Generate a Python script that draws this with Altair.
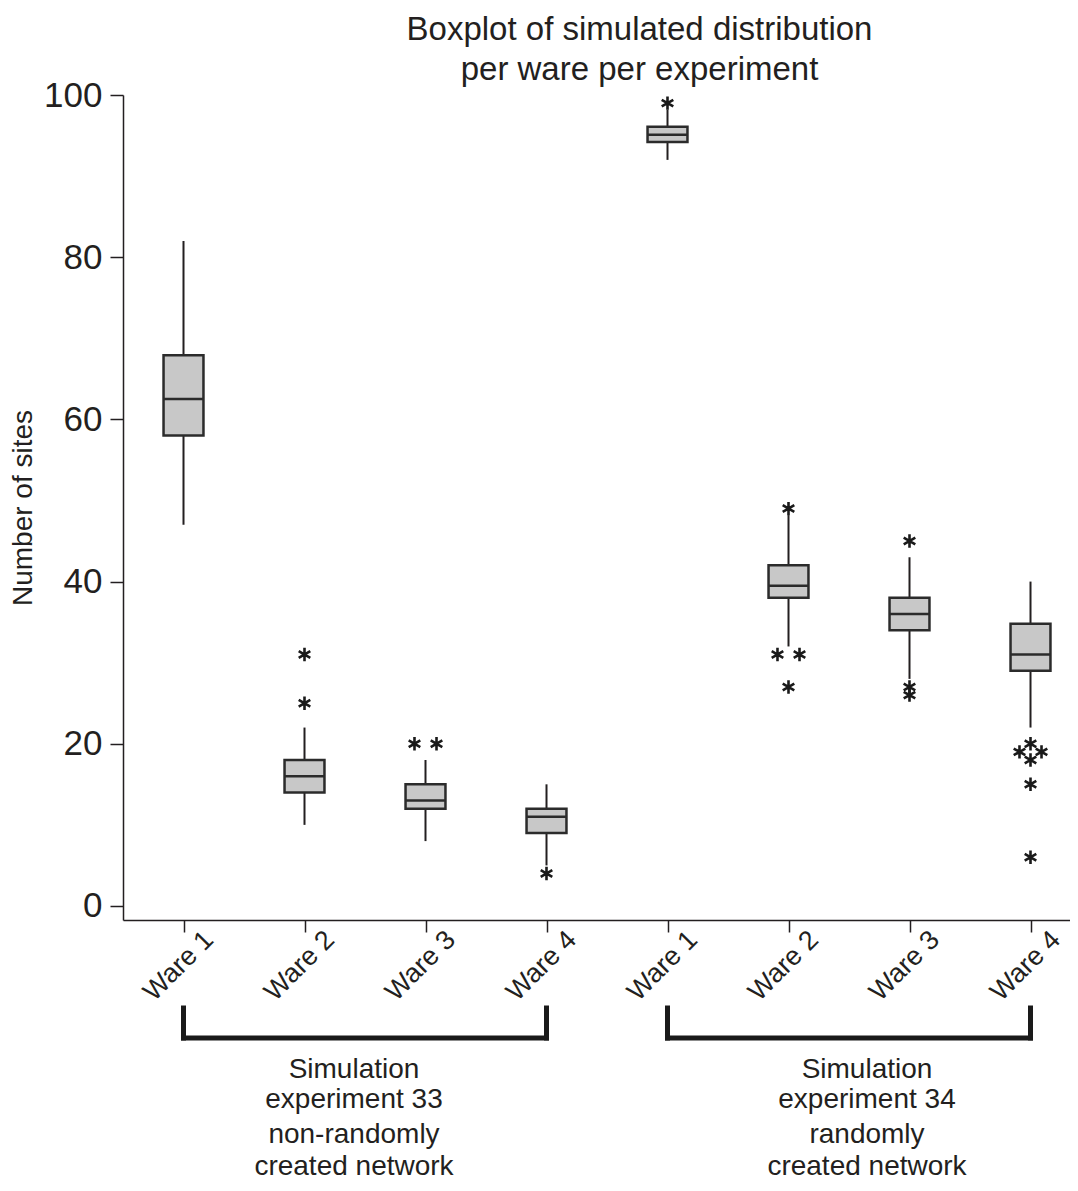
import json
import altair as alt
import pandas as pd

# ---------------- data ----------------
box_index = [0, 1, 2, 3, 4, 5, 6, 7]
tick_labels = ["Ware 1", "Ware 2", "Ware 3", "Ware 4", "Ware 1", "Ware 2", "Ware 3", "Ware 4"]
experiment = ["33", "33", "33", "33", "34", "34", "34", "34"]
whisker_low = [47, 10, 8, 5, 92, 32, 28, 22]
q1 = [58, 14, 12, 9, 94.2, 38, 34, 29]
median = [62.5, 16, 13, 11, 95.1, 39.5, 36, 31]
q3 = [67.9, 18, 15, 12, 96.1, 42, 38, 34.8]
whisker_high = [82, 22, 18, 15, 98.2, 48.2, 43, 40]

outlier_box = [1, 1, 2, 2, 3, 4, 5, 5, 5, 5, 6, 6, 6, 7, 7, 7, 7, 7, 7]
outlier_value = [31, 25, 20, 20, 4, 99, 49, 31, 31, 27, 45, 27, 26, 20, 19, 19, 18, 15, 6]
outlier_side = [0, 0, -1, 1, 0, 0, 0, -1, 1, 0, 0, 0, 0, 0, -1, 1, 0, 0, 0]

bracket_start = [0, 4]
bracket_end = [3, 7]
group_title = ["Simulation\nexperiment 33", "Simulation\nexperiment 34"]
group_sub = ["non-randomly\ncreated network", "randomly\ncreated network"]

title_lines = ["Boxplot of simulated distribution", "per ware per experiment"]
y_title = "Number of sites"
y_ticks = [0, 20, 40, 60, 80, 100]

# ---------------- tables ----------------
boxes = pd.DataFrame({
    "idx": box_index, "exp": experiment, "lo": whisker_low, "q1": q1,
    "med": median, "q3": q3, "hi": whisker_high,
})
outs = pd.DataFrame({"idx": outlier_box, "v": outlier_value, "side": outlier_side})
brackets = pd.DataFrame({"s": bracket_start, "e": bracket_end})
groups = pd.DataFrame({"t": group_title, "u": group_sub, "px": [231, 744]})

FONT = "Liberation Sans"
INK = "#231f20"
HALF = 0.165
W, H = 947, 825

xscale = alt.Scale(domain=[-0.5, 7.3264], nice=False, zero=False)
yscale = alt.Scale(domain=[-1.73, 100], nice=False, zero=False)

label_expr = json.dumps(tick_labels) + "[datum.value]"

xaxis = alt.Axis(values=box_index, labelExpr=label_expr, title=None, grid=False,
                 labelAngle=-45, labelAlign="right", labelBaseline="top",
                 labelFontSize=27, labelFont=FONT, labelColor=INK,
                 labelPadding=-6, labelOffset=16,
                 tickSize=12, tickColor=INK, tickWidth=1.5,
                 domainColor=INK, domainWidth=1.5)
yaxis = alt.Axis(values=y_ticks, title=y_title, grid=False,
                 labelFontSize=35, labelFont=FONT, labelColor=INK, labelPadding=8,
                 titleFontSize=28, titleFont=FONT, titleColor=INK, titleFontWeight="normal",
                 titlePadding=6,
                 tickSize=13, tickColor=INK, tickWidth=1.5,
                 domainColor=INK, domainWidth=1.5)

base = alt.Chart(boxes)

whisk = base.mark_rule(color=INK, strokeWidth=2).encode(
    x=alt.X("idx:Q", scale=xscale, axis=xaxis),
    y=alt.Y("lo:Q", scale=yscale, axis=yaxis),
    y2="hi:Q",
)

box = base.transform_calculate(
    x0=f"datum.idx - {HALF}", x1=f"datum.idx + {HALF}"
).mark_rect(fill="#c8c8c8", stroke="#2b2b2b", strokeWidth=2.5).encode(
    x=alt.X("x0:Q", scale=xscale), x2="x1:Q",
    y=alt.Y("q1:Q", scale=yscale), y2="q3:Q",
)

med = base.transform_calculate(
    x0=f"datum.idx - {HALF}", x1=f"datum.idx + {HALF}"
).mark_rule(color="#2b2b2b", strokeWidth=2.5).encode(
    x=alt.X("x0:Q", scale=xscale), x2="x1:Q",
    y=alt.Y("med:Q", scale=yscale),
)

STAR = "M0,-1L0,1M-0.866,-0.5L0.866,0.5M-0.866,0.5L0.866,-0.5"
pts = alt.Chart(outs).transform_calculate(
    xp="datum.idx + datum.side * 0.091"
).mark_point(shape=STAR, filled=False, stroke="#1a1a1a", strokeWidth=2.6, size=180, opacity=1).encode(
    x=alt.X("xp:Q", scale=xscale),
    y=alt.Y("v:Q", scale=yscale),
)

vs = alt.Chart(brackets).mark_rule(color="#1a1a1a", strokeWidth=5, strokeCap="square").encode(
    x=alt.X("s:Q", scale=xscale), y=alt.value(913), y2=alt.value(943))
ve = alt.Chart(brackets).mark_rule(color="#1a1a1a", strokeWidth=5, strokeCap="square").encode(
    x=alt.X("e:Q", scale=xscale), y=alt.value(913), y2=alt.value(943))
hz = alt.Chart(brackets).mark_rule(color="#1a1a1a", strokeWidth=5, strokeCap="square").encode(
    x=alt.X("s:Q", scale=xscale), x2="e:Q", y=alt.value(943))

gt = alt.Chart(groups).transform_calculate(
    lines="split(datum.t, '\\n')"
).mark_text(font=FONT, fontSize=28, color=INK, align="center", baseline="alphabetic",
            lineHeight=30).encode(
    x=alt.X("px:Q", scale=None), y=alt.value(983), text="lines:N")
gu = alt.Chart(groups).transform_calculate(
    lines="split(datum.u, '\\n')"
).mark_text(font=FONT, fontSize=28, color=INK, align="center", baseline="alphabetic",
            lineHeight=32).encode(
    x=alt.X("px:Q", scale=None), y=alt.value(1048), text="lines:N")

chart = alt.layer(whisk, box, med, pts, vs, ve, hz, gt, gu).properties(
    width=W, height=H,
    title=alt.TitleParams(title_lines, font=FONT, fontSize=33, fontWeight="normal",
                          color=INK, anchor="middle", frame="group", dx=43,
                          lineHeight=40, offset=-9),
    autosize=alt.AutoSizeParams(type="none"),
    padding={"left": 115, "top": 87, "right": 0, "bottom": 263},
).configure_view(stroke=None)

chart.save("out.html", embed_options={"renderer": "svg", "actions": False})
